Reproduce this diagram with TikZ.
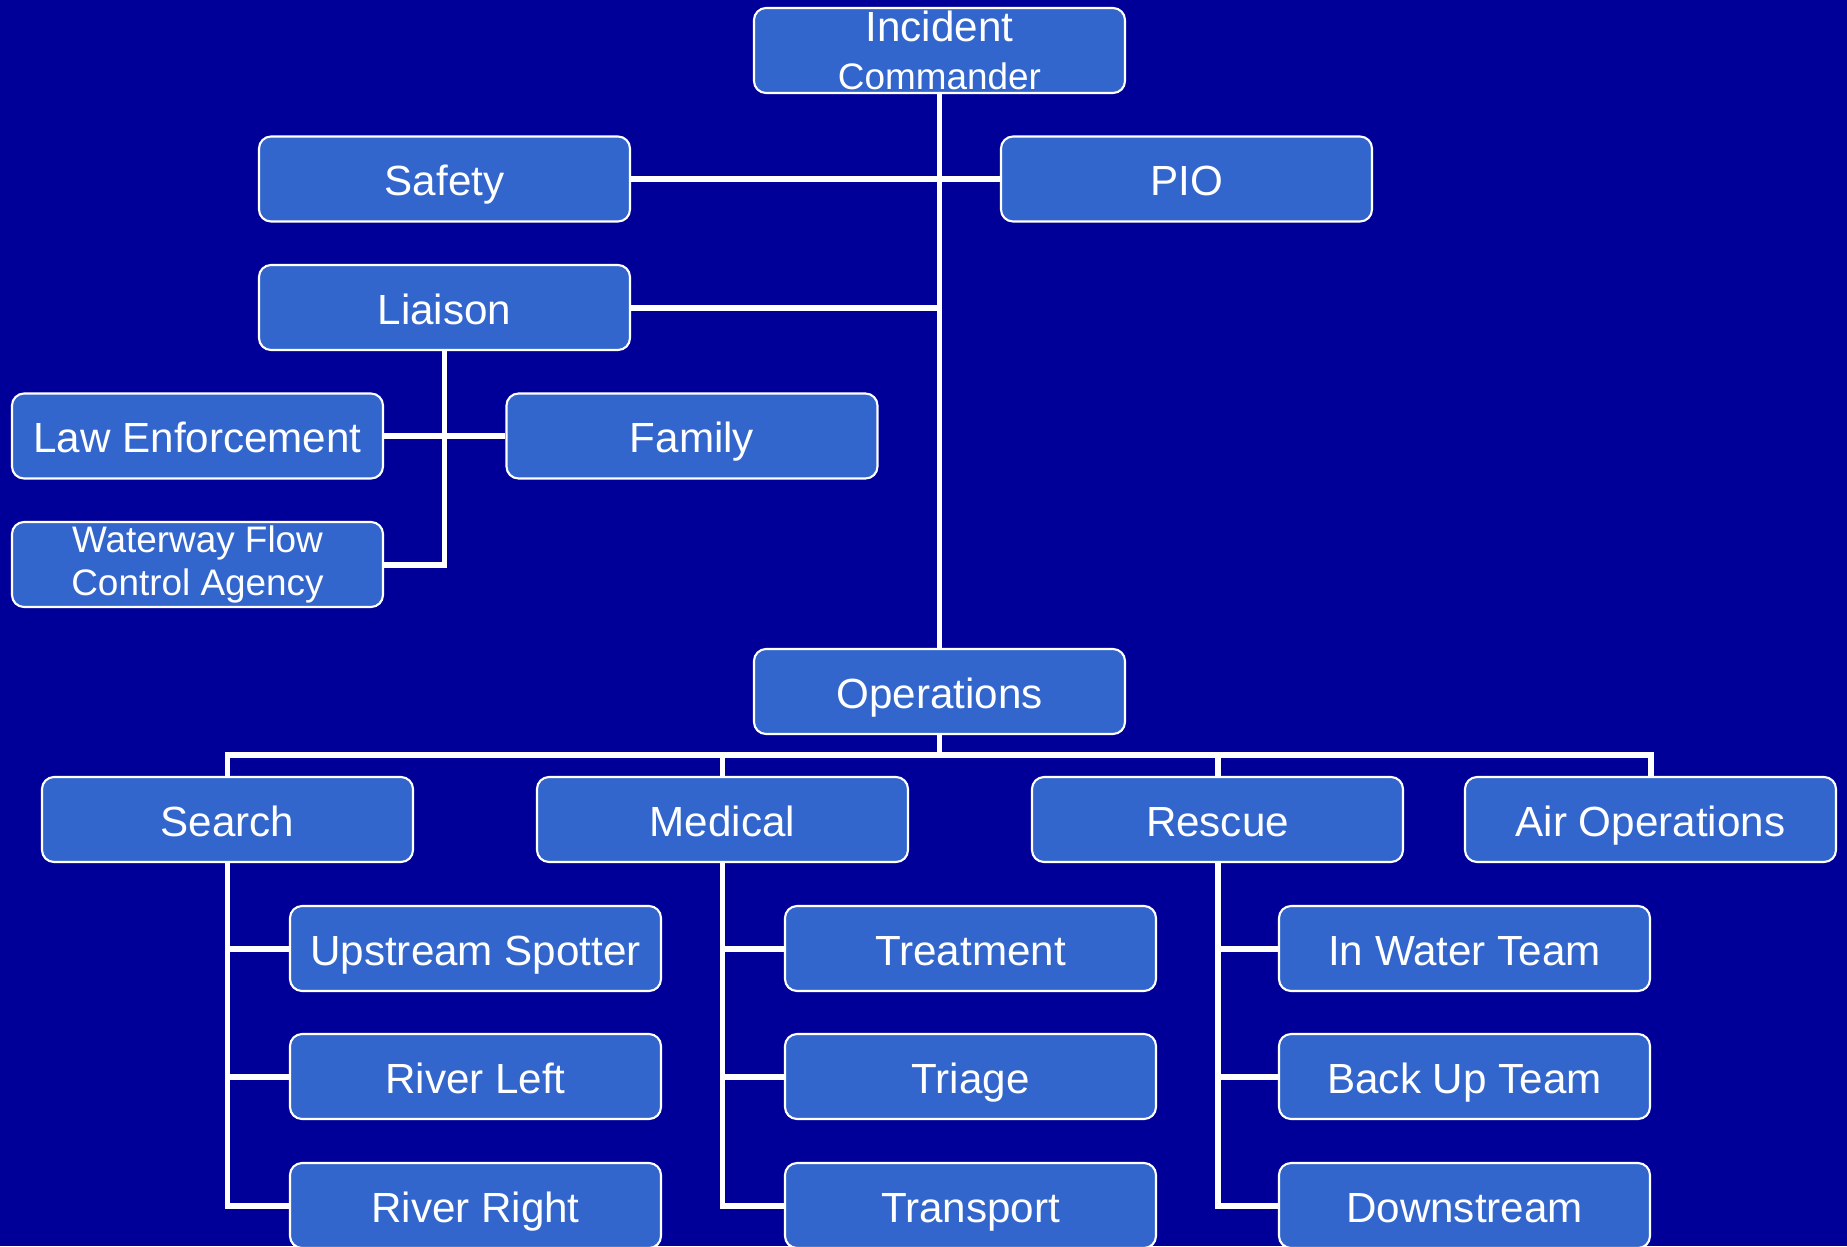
\documentclass[tikz,border=0pt]{standalone}
\usepackage{fontspec}
\setmainfont{Liberation Sans}
\usepackage{tikz}

\definecolor{bgblue}{HTML}{000099}
\definecolor{boxblue}{HTML}{3366CC}

\begin{document}
\begin{tikzpicture}[
    box/.style={draw=white, line width=0.6pt, fill=boxblue, rounded corners=0.12cm,
                minimum width=3.71cm, minimum height=0.85cm, inner sep=0pt,
                text height=0.36cm, text depth=0.03cm,
                text=white, font=\fontsize{12}{14}\selectfont, align=center},
    twoline/.style={text height={}, text depth={}},
    conn/.style={draw=white, line width=1.7pt}
]
                \clip (0,0) rectangle (18.47,-12.46);
                \fill[bgblue] (0,0) rectangle (18.47,-12.46); %背景

                \node[box, twoline] (ic) at (9.395,-0.505) {Incident\\[-0.5pt]{\fontsize{10.5}{12}\selectfont Commander}}; %指揮
                \node[box] (safety) at (4.445,-1.79) {Safety};
                \node[box] (pio) at (11.865,-1.79) {PIO};
                \node[box] (liaison) at (4.445,-3.075) {Liaison};
                \node[box] (law) at (1.975,-4.36) {Law Enforcement};
                \node[box] (family) at (6.92,-4.36) {Family};
                \node[box, twoline, font=\fontsize{10.5}{12.2}\selectfont] (waterway) at (1.975,-5.645) {Waterway Flow\\Control Agency};
                \node[box] (ops) at (9.395,-6.915) {Operations};

                % 第二段
                \node[box] (search) at (2.275,-8.195) {Search};
                \node[box] (medical) at (7.225,-8.195) {Medical};
                \node[box] (rescue) at (12.175,-8.195) {Rescue};
                \node[box] (air) at (16.505,-8.195) {Air Operations};

                % 第三段
                \node[box] (upstream) at (4.755,-9.485) {Upstream Spotter};
                \node[box] (riverleft) at (4.755,-10.765) {River Left};
                \node[box] (riverright) at (4.755,-12.055) {River Right};
                \node[box] (treatment) at (9.705,-9.485) {Treatment};
                \node[box] (triage) at (9.705,-10.765) {Triage};
                \node[box] (transport) at (9.705,-12.055) {Transport};
                \node[box] (inwater) at (14.645,-9.485) {In Water Team};
                \node[box] (backup) at (14.645,-10.765) {Back Up Team};
                \node[box] (downstream) at (14.645,-12.055) {Downstream};

                \coordinate (bus) at (9.395,-7.55); %横線

                \draw[conn] (ic.south) -- (ops.north);
                \draw[conn] (safety.east) -- (pio.west);
                \draw[conn] (liaison.east) -- (liaison.east -| ic.south);
                \draw[conn] (liaison.south) |- (waterway.east);
                \draw[conn] (law.east) -- (family.west);
                \foreach \P in {search,medical,rescue,air} \draw[conn] (ops.south) -- (ops.south |- bus) -| (\P.north);
                \foreach \P/\Q in {search/upstream,search/riverleft,search/riverright,
                                   medical/treatment,medical/triage,medical/transport,
                                   rescue/inwater,rescue/backup,rescue/downstream}
                    \draw[conn] (\P.south) |- (\Q.west);

\end{tikzpicture}
\end{document}
